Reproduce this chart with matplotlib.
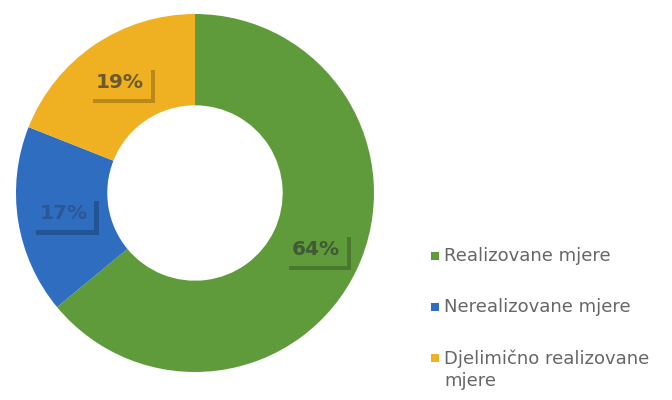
import matplotlib.pyplot as plt
import matplotlib.patheffects as pe
from matplotlib.patches import Rectangle

labels = ['Realizovane mjere', 'Nerealizovane mjere', 'Djelimično realizovane\nmjere']
values = [64, 17, 19]
colors = ['#5f9b3b', '#2e6dbf', '#efb022']
label_text_colors = ['#3f5a35', '#2c5796', '#6b5a2e']

fig = plt.figure(figsize=(6.72, 4.0), dpi=100)
ax = fig.add_axes([0.0238, 0.07, 0.5327, 0.895])

wedges, texts, autotexts = ax.pie(
    values, colors=colors, startangle=90, counterclock=False,
    autopct='%d%%', pctdistance=0.745, radius=1.0,
    wedgeprops=dict(width=0.51, edgecolor='none'),
    textprops=dict(fontsize=14.5, fontweight='bold'))
ax.set_xlim(-1, 1)
ax.set_ylim(-1, 1)
ax.set_aspect('equal')

for t, col, tc in zip(autotexts, colors, label_text_colors):
    t.set_color(tc)
    t.set_bbox(dict(boxstyle='square,pad=0.35', facecolor=col, edgecolor='none'))
    t.get_bbox_patch().set_path_effects([
        pe.SimplePatchShadow(offset=(3, -3), shadow_rgbFace='#000000', alpha=0.22),
        pe.Normal()])

# legend on the right
y0 = 400 - 256
step = 51
for i, (lab, col) in enumerate(zip(labels, colors)):
    y = (y0 - i * step) / 400
    fig.patches.append(Rectangle((431 / 672, y - 4 / 400), 8 / 672, 8 / 400,
                                 transform=fig.transFigure, facecolor=col,
                                 edgecolor='none'))
    fig.text(444 / 672, y + 9 / 400, lab, fontsize=13, color='#666666',
             va='top', ha='left', linespacing=1.3)

fig.savefig('out.png', dpi=100)
